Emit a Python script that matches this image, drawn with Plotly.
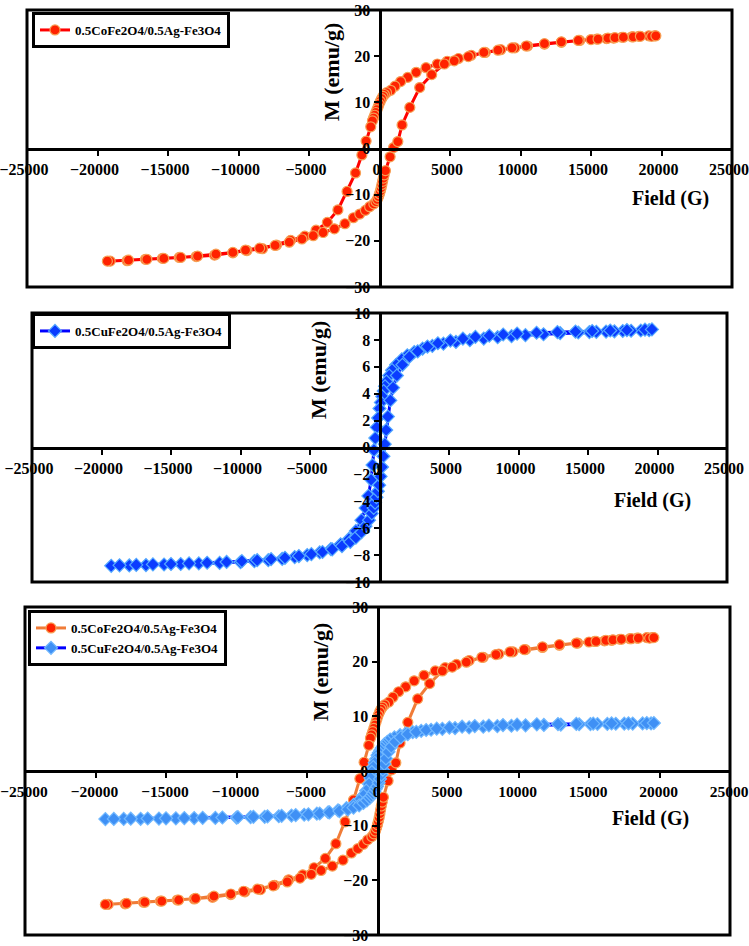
import plotly.graph_objects as go

# ---------------- data ----------------
co_desc_field = [19500, 19100, 18400, 17900, 17200, 16600, 16100, 15400, 15000, 14200,
                 12900, 11700, 10500, 9600, 8600, 7500, 6500, 5600, 4800, 4100,
                 3300, 2600, 2000, 1500, 1100, 800, 500, 350, 250, 150,
                 50, -30, -100, -180, -260, -340, -420, -500, -620, -950,
                 -1250, -1700, -2300, -2950, -3700, -4500, -5300, -6300, -7300, -8300,
                 -9400, -10400, -11700, -13000, -14200, -15400, -16600, -17900, -19100]
co_desc_m = [24.4, 24.4, 24.3, 24.2, 24.1, 23.9, 23.8, 23.7, 23.6, 23.4,
             23.0, 22.6, 22.2, 21.8, 21.4, 20.8, 20.2, 19.5, 18.9, 18.3,
             17.5, 16.5, 15.4, 14.5, 13.5, 12.6, 12.1, 11.7, 11.3, 10.8,
             10.2, 9.6, 9.0, 8.4, 7.8, 7.2, 6.6, 6.0, 4.7, 1.6,
             -1.4, -5.3, -9.3, -13.3, -16.0, -17.7, -19.0, -19.9, -20.9, -21.7,
             -22.1, -22.6, -23.1, -23.4, -23.6, -23.8, -24.0, -24.3, -24.4]

co_asc_field = [-19300, -17800, -16500, -15300, -14100, -12900, -11600, -10400, -9500, -8500,
                -7400, -6400, -5500, -4700, -4000, -3200, -2450, -1850, -1400, -1000,
                -700, -400, -250, -150, -70, 0, 60, 120, 170, 220,
                270, 330, 420, 750, 1000, 1300, 1600, 2150, 2850, 3700,
                4600, 5300, 6300, 7400, 8400, 9400, 10400, 11700, 12900, 14100,
                15500, 16200, 16700, 17300, 18000, 18500, 19300, 19600]
co_asc_m = [-24.4, -24.2, -24.0, -23.8, -23.6, -23.3, -22.9, -22.5, -22.0, -21.6,
            -21.0, -20.3, -19.6, -18.9, -18.2, -17.4, -16.3, -15.0, -14.2, -13.4,
            -12.6, -12.0, -11.5, -11.0, -10.4, -9.8, -9.2, -8.5, -7.8, -7.1,
            -6.4, -5.7, -4.8, -1.8, 0.2, 1.5, 5.1, 8.9, 13.2, 16.0,
            18.3, 19.0, 19.9, 20.8, 21.3, 21.8, 22.2, 22.7, 23.1, 23.4,
            23.7, 23.9, 24.0, 24.1, 24.2, 24.3, 24.3, 24.4]

cu_desc_field = [19400, 18800, 18100, 17500, 16900, 16300, 15600, 15100, 14300, 13000,
                 11800, 10500, 9500, 8500, 7500, 6500, 5500, 4600, 3800, 3100,
                 2500, 2000, 1600, 1200, 900, 700, 500, 400, 300, 200,
                 100, 0, -100, -200, -300, -400, -500, -600, -800, -1000,
                 -1300, -1700, -2200, -2800, -3500, -4300, -5200, -6100, -7000, -8000,
                 -9000, -10000, -11500, -13000, -14300, -15500, -16800, -18000, -19300]
cu_desc_m = [8.72, 8.70, 8.68, 8.66, 8.64, 8.62, 8.60, 8.58, 8.55, 8.50,
             8.42, 8.35, 8.28, 8.20, 8.10, 7.98, 7.85, 7.72, 7.55, 7.35,
             7.10, 6.85, 6.55, 6.15, 5.75, 5.35, 4.90, 4.55, 4.20, 3.80,
             3.35, 2.90, 2.20, 1.50, 0.70, -0.20, -1.30, -2.40, -3.60, -4.50,
             -5.40, -6.20, -6.80, -7.20, -7.55, -7.80, -8.00, -8.15, -8.28, -8.38,
             -8.45, -8.52, -8.58, -8.62, -8.66, -8.70, -8.74, -8.77, -8.80]

cu_asc_field = [-18700, -17500, -16300, -15000, -13700, -12400, -11000, -9900, -8800, -7800,
                -6800, -5800, -4900, -4100, -3400, -2700, -2100, -1700, -1300, -1000,
                -750, -550, -420, -320, -220, -120, -20, 80, 180, 280,
                380, 480, 600, 780, 980, 1250, 1650, 2150, 2750, 3450,
                4200, 5100, 6000, 6900, 7900, 8900, 9900, 11300, 12800, 14100,
                15300, 16600, 17800, 19100, 19600]
cu_asc_m = [-8.76, -8.73, -8.69, -8.66, -8.62, -8.57, -8.51, -8.45, -8.38, -8.30,
            -8.20, -8.07, -7.93, -7.77, -7.58, -7.33, -7.02, -6.70, -6.30, -5.85,
            -5.40, -4.90, -4.50, -4.10, -3.70, -3.25, -2.80, -2.15, -1.45, -0.65,
            0.25, 1.30, 2.30, 3.50, 4.45, 5.35, 6.15, 6.75, 7.15, 7.50,
            7.75, 7.95, 8.10, 8.22, 8.32, 8.40, 8.47, 8.53, 8.58, 8.62,
            8.66, 8.70, 8.73, 8.76, 8.78]

co_name = "0.5CoFe2O4/0.5Ag-Fe3O4"
cu_name = "0.5CuFe2O4/0.5Ag-Fe3O4"
x_title = "Field (G)"
y_title = "M (emu/g)"

# ---------------- layout geometry (page pixels) ----------------
W, H = 749, 946
FONT = "Liberation Serif"
panels = [
    dict(l=27, r=732, t=10, b=287, yr=30, dt=10, shift=-3, xfs=16),
    dict(l=32, r=727, t=313, b=582, yr=10, dt=2, shift=-3, xfs=16),
    dict(l=25, r=730, t=607, b=935, yr=30, dt=10, shift=-1, xfs=15.5),
]


def px(x):
    return x / W


def py(y):
    return 1 - y / H


co_x = co_desc_field + co_asc_field
co_y = co_desc_m + co_asc_m
cu_x = cu_desc_field + cu_asc_field
cu_y = cu_desc_m + cu_asc_m

fig = go.Figure()

co_marker = dict(symbol="circle", size=10, color="#ff2200",
                 line=dict(color="#f7a055", width=1.2))

fig.add_trace(go.Scatter(x=co_x, y=co_y, mode="lines+markers", name=co_name,
                         line=dict(color="#ff0000", width=3), marker=co_marker,
                         xaxis="x", yaxis="y", legend="legend"))
fig.add_trace(go.Scatter(x=cu_x, y=cu_y, mode="lines+markers", name=cu_name,
                         line=dict(color="#0000ff", width=3),
                         marker=dict(symbol="diamond", size=10, color="#0a3cff",
                                     line=dict(color="#55aaff", width=1.2)),
                         xaxis="x2", yaxis="y2", legend="legend2"))
fig.add_trace(go.Scatter(x=co_x, y=co_y, mode="lines+markers", name=co_name,
                         line=dict(color="#f07c38", width=3), marker=co_marker,
                         xaxis="x3", yaxis="y3", legend="legend3"))
fig.add_trace(go.Scatter(x=cu_x, y=cu_y, mode="lines+markers", name=cu_name,
                         line=dict(color="#0000ff", width=3),
                         marker=dict(symbol="diamond", size=10, color="#3f90f5",
                                     line=dict(color="#70b8ff", width=1.2)),
                         xaxis="x3", yaxis="y3", legend="legend3"))

layout = dict(width=W, height=H, margin=dict(l=0, r=0, t=0, b=0, pad=0, autoexpand=False),
              paper_bgcolor="white", plot_bgcolor="white", showlegend=True)
annotations = []
shapes = []
for i, p in enumerate(panels):
    sfx = "" if i == 0 else str(i + 1)
    xd = [px(p["l"]), px(p["r"])]
    yd = [py(p["b"]), py(p["t"])]
    layout["xaxis" + sfx] = dict(
        domain=xd, range=[-25000, 25000], dtick=5000, tick0=0, tickformat="d",
        anchor="free", position=(yd[0] + yd[1]) / 2, automargin=False,
        ticklabeloverflow="allow", ticklabelshift=p["shift"],
        showline=True, linecolor="black", linewidth=3,
        ticks="outside", ticklen=5, tickwidth=2, tickcolor="black",
        showgrid=False, zeroline=False,
        tickfont=dict(family=FONT, size=p["xfs"], color="black", weight="bold"))
    layout["yaxis" + sfx] = dict(
        domain=yd, range=[-p["yr"], p["yr"]], dtick=p["dt"], tick0=0, tickformat="d",
        anchor="free", position=(xd[0] + xd[1]) / 2, automargin=False,
        ticklabeloverflow="allow",
        showline=True, linecolor="black", linewidth=3,
        ticks="outside", ticklen=5, tickwidth=2, tickcolor="black",
        showgrid=False, zeroline=False,
        tickfont=dict(family=FONT, size=16, color="black", weight="bold"))
    shapes.append(dict(type="rect", xref="x%s domain" % sfx, yref="y%s domain" % sfx,
                       x0=0, x1=1, y0=0, y1=1, line=dict(color="black", width=3),
                       layer="above"))

ytitle_font = dict(family=FONT, size=22, color="black", weight="bold")
xtitle_font = dict(family=FONT, size=20, color="black", weight="bold")
for (mx, my, fx, fy) in [(332, 72, 670, 198), (318, 370, 652, 500), (320, 672, 650, 818)]:
    annotations.append(dict(text=y_title, x=px(mx), y=py(my), xref="paper", yref="paper",
                            textangle=-90, showarrow=False, font=ytitle_font,
                            xanchor="center", yanchor="middle"))
    annotations.append(dict(text=x_title, x=px(fx), y=py(fy), xref="paper", yref="paper",
                            showarrow=False, font=xtitle_font,
                            xanchor="center", yanchor="middle"))

legfont = dict(family=FONT, size=13, color="black", weight="bold")
for key, (lx, ly) in zip(["legend", "legend2", "legend3"], [(32, 12), (32, 313), (28, 610)]):
    layout[key] = dict(x=px(lx), y=py(ly), xanchor="left", yanchor="top",
                       bgcolor="white", bordercolor="black", borderwidth=3,
                       font=legfont, tracegroupgap=0)

layout["annotations"] = annotations
layout["shapes"] = shapes
fig.update_layout(**layout)
fig.write_html("out.html", config={"displayModeBar": False},
               post_script="document.body.style.margin='0';document.body.style.overflow='hidden';")
